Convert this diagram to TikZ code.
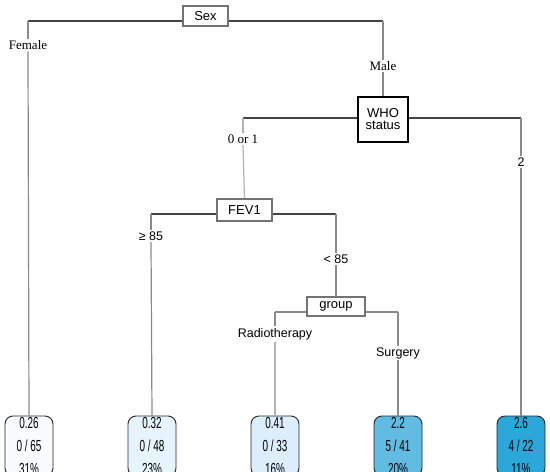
\documentclass[tikz,border=0pt]{standalone}
\usepackage{fontspec}
\setmainfont{Liberation Serif}
\setsansfont{Liberation Sans}
\newfontfamily\leaffont[FakeStretch=0.62]{Liberation Sans}
\definecolor{lf1}{HTML}{F8FCFF}
\definecolor{lf2}{HTML}{E6F5FD}
\definecolor{lf3}{HTML}{DCEEFB}
\definecolor{lf4}{HTML}{62BCE2}
\definecolor{lf5}{HTML}{2BA8D9}
\definecolor{hline}{HTML}{444444}
\definecolor{vline}{HTML}{8A8A8A}
\begin{document}
\begin{tikzpicture}[x=1pt,y=-1pt,
  splitbox/.style={draw=#1, line width=1.2pt, fill=white, inner sep=0pt, font=\sffamily\fontsize{13}{14}\selectfont, align=center},
  serlab/.style={inner sep=1.5pt, font=\fontsize{13}{14}\selectfont, fill=white},
  sanlab/.style={inner sep=1.5pt, font=\sffamily\fontsize{12.5}{13}\selectfont, fill=white},
  leafbox/.style={draw=black!85, line width=0.9pt, rounded corners=8pt, minimum width=48pt, minimum height=60pt, inner sep=0pt, align=center, font=\leaffont\fontsize{16}{23}\selectfont},
  hl/.style={draw=hline, line width=1.2pt},
  vl/.style={draw=vline, line width=1.2pt},
  vlight/.style={draw=black!30, line width=1.2pt}]
\useasboundingbox (0,0) rectangle (550,472);
\clip (0,0) rectangle (550,472);
\fill[white] (0,0) rectangle (550,472);

% split nodes
\node[splitbox=black!55, minimum width=45pt, minimum height=20pt] (sex) at (205.5,16) {Sex};
\node[splitbox=black, minimum width=50pt, minimum height=45pt] (who) at (383,119.5) {WHO\\[-2pt]status};
\node[splitbox=black!55, minimum width=55pt, minimum height=22pt] (fev) at (244.5,210) {FEV1};
\node[splitbox=black!55, minimum width=58pt, minimum height=19pt] (grp) at (336,306.5) {group};

% branch labels
\node[serlab] (female) at (28,45) {Female};
\node[serlab] (male) at (383,66) {Male};
\node[serlab] (zo) at (243,139) {0 or 1};
\node[sanlab] (two) at (521,162) {2};
\node[sanlab] (ge) at (151,236) {≥ 85};
\node[sanlab] (lt) at (336,259) {< 85};
\node[sanlab] (radio) at (275,334) {Radiotherapy};
\node[sanlab] (surg) at (398,353) {Surgery};

% leaves
\node[leafbox, fill=lf1] (l1) at (29,446) {0.26\\0\,/\,65\\31\%};
\node[leafbox, fill=lf2] (l2) at (152,446) {0.32\\0\,/\,48\\23\%};
\node[leafbox, fill=lf3] (l3) at (275,446) {0.41\\0\,/\,33\\16\%};
\node[leafbox, fill=lf4] (l4) at (398,446) {2.2\\5\,/\,41\\20\%};
\node[leafbox, fill=lf5] (l5) at (521,446) {2.6\\4\,/\,22\\11\%};

% coordinates for corners
\coordinate (sexL) at (28,21);
\coordinate (sexR) at (383,21);
\coordinate (whoL) at (243,118);
\coordinate (whoR) at (521,118);
\coordinate (fevL) at (151,214);
\coordinate (fevR) at (336,214);
\coordinate (grpL) at (275,312);
\coordinate (grpR) at (398,312);

% connectors from Sex
\draw[hl] (sex.west |- sexL) -- (sexL);
\draw[vl] (sexL) -- (female.north);
\draw[vl] (female.south) -- (l1.north);
\draw[hl] (sex.east |- sexR) -- (sexR);
\draw[vl] (sexR) -- (male.north);
\draw[vl] (male.south) -- (who.north);

% connectors from WHO
\draw[hl] (who.west |- whoL) -- (whoL);
\draw[vlight] (whoL) -- (zo.north);
\draw[vlight] (zo.south) -- (fev.north);
\draw[hl] (who.east |- whoR) -- (whoR);
\draw[vl] (whoR) -- (two.north);
\draw[vl] (two.south) -- (l5.north);

% connectors from FEV1
\draw[hl] (fev.west |- fevL) -- (fevL);
\draw[vl] (fevL) -- (ge.north);
\draw[vl] (ge.south) -- (l2.north);
\draw[hl] (fev.east |- fevR) -- (fevR);
\draw[vl] (fevR) -- (lt.north);
\draw[vl] (lt.south) -- (grp.north);

% connectors from group
\draw[vl] (grp.west |- grpL) -- (grpL);
\draw[vl] (grpL) -- (radio.north);
\draw[vlight] (radio.south) -- (l3.north);
\draw[vl] (grp.east |- grpR) -- (grpR);
\draw[vl] (grpR) -- (surg.north);
\draw[vl] (surg.south) -- (l4.north);
\end{tikzpicture}
\end{document}
